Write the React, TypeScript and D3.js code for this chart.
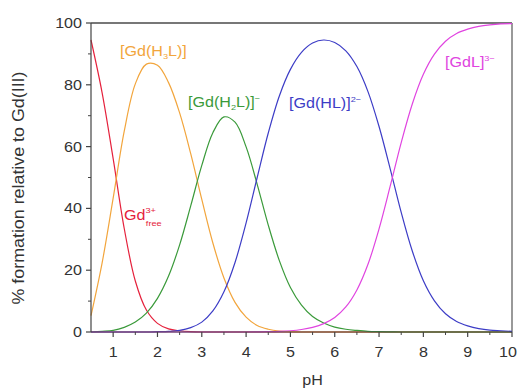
import React from "react";
import * as d3 from "d3";

const W = 518;
const H = 388;
const SX = 1.15; // the source picture is a little stretched sideways

// pH grid and species distribution (% of total Gd)
const pH = [0.5, 0.75, 1, 1.25, 1.5, 1.75, 2, 2.25, 2.5, 2.75, 3, 3.25, 3.5, 3.75, 4, 4.25, 4.5, 4.75, 5, 5.25, 5.5, 5.75, 6, 6.25, 6.5, 6.75, 7, 7.25, 7.5, 7.75, 8, 8.25, 8.5, 8.75, 9, 9.25, 9.5, 9.75, 10];
const gdFree = [94.5, 77.5, 56.1, 33.5, 16.5, 7.1, 2.8, 1.0, 0.4, 0.1, 0, 0, 0, 0, 0, 0, 0, 0, 0, 0, 0, 0, 0, 0, 0, 0, 0, 0, 0, 0, 0, 0, 0, 0, 0, 0, 0, 0, 0];
const gdH3L = [5.3, 22.3, 43.3, 65.0, 80.3, 86.7, 86.3, 80.7, 70.9, 57.7, 42.9, 28.8, 17.5, 9.6, 4.8, 2.1, 0.9, 0.3, 0.1, 0, 0, 0, 0, 0, 0, 0, 0, 0, 0, 0, 0, 0, 0, 0, 0, 0, 0, 0, 0];
const gdH2L = [0, 0.2, 0.5, 1.5, 3.2, 6.1, 10.9, 18.1, 28.2, 40.8, 53.9, 64.5, 69.6, 67.9, 59.9, 47.8, 34.6, 23.1, 14.4, 8.7, 5.0, 2.9, 1.6, 0.9, 0.5, 0.2, 0.1, 0.05, 0, 0, 0, 0, 0, 0, 0, 0, 0, 0, 0];
const gdHL = [0, 0, 0, 0, 0, 0, 0.1, 0.2, 0.5, 1.4, 3.2, 6.8, 13.0, 22.5, 35.3, 50.0, 64.4, 76.4, 85.0, 90.5, 93.5, 94.5, 93.7, 91.0, 85.9, 77.8, 66.5, 52.9, 38.7, 26.2, 16.6, 10.1, 5.9, 3.4, 2.0, 1.1, 0.6, 0.4, 0.2];
const gdL = [0, 0, 0, 0, 0, 0, 0, 0, 0, 0, 0, 0, 0, 0, 0, 0.05, 0.1, 0.2, 0.4, 0.8, 1.5, 2.7, 4.7, 8.1, 13.6, 21.9, 33.4, 47.1, 61.3, 73.8, 83.4, 89.9, 94.1, 96.6, 98.0, 98.9, 99.4, 99.7, 99.8];

const xTicks = [1, 2, 3, 4, 5, 6, 7, 8, 9, 10];
const xMinor = [1.5, 2.5, 3.5, 4.5, 5.5, 6.5, 7.5, 8.5, 9.5];
const yTicks = [0, 20, 40, 60, 80, 100];
const yMinor = [10, 30, 50, 70, 90];

const series = [
  { name: "free", values: gdFree, color: "#e5213c" },
  { name: "H3L", values: gdH3L, color: "#f2a53c" },
  { name: "H2L", values: gdH2L, color: "#3a9a3a" },
  { name: "HL", values: gdHL, color: "#3c3cc6" },
  { name: "L", values: gdL, color: "#e044e0" },
];

const FONT = "Liberation Sans, Arial, sans-serif";

const Txt = ({ x, y, anchor = "start", size = 14, fill = "#333", children }: any) => (
  <g transform={`translate(${x},${y}) scale(${SX},1)`}>
    <text textAnchor={anchor} fontSize={size} fill={fill} fontFamily={FONT}>
      {children}
    </text>
  </g>
);

const App: React.FC = () => {
  const x = d3.scaleLinear().domain([0.5, 10]).range([91, 512]);
  const y = d3.scaleLinear().domain([0, 100]).range([332, 23]);

  const line = (vals: number[]) =>
    d3
      .line<number>()
      .x((_, i) => x(pH[i]))
      .y((d) => y(d))
      .curve(d3.curveCatmullRom.alpha(0.5))(vals) || "";

  const axisColor = "#444";

  return (
    <svg width={W} height={H} style={{ position: "absolute", left: 0, top: 0, background: "#fff" }}>
      {/* frame top/right */}
      <line x1={x(0.5)} x2={x(10)} y1={y(100)} y2={y(100)} stroke="#777" strokeWidth={2} />
      <line x1={x(10)} x2={x(10)} y1={y(100)} y2={y(0)} stroke="#777" strokeWidth={1.5} />

      {/* curves */}
      {series.map((s) => (
        <path key={s.name} d={line(s.values)} fill="none" stroke={s.color} strokeWidth={1.2} />
      ))}

      {/* y axis */}
      <line x1={x(0.5)} x2={x(0.5)} y1={y(0)} y2={y(100)} stroke={axisColor} strokeWidth={1.2} />
      {yTicks.map((t) => (
        <g key={"y" + t}>
          <line x1={x(0.5) - 5} x2={x(0.5)} y1={y(t)} y2={y(t)} stroke={axisColor} strokeWidth={1.2} />
          <Txt x={x(0.5) - 9} y={y(t) + 5} anchor="end">{t}</Txt>
        </g>
      ))}
      {yMinor.map((t) => (
        <line key={"ym" + t} x1={x(0.5) - 3} x2={x(0.5)} y1={y(t)} y2={y(t)} stroke={axisColor} strokeWidth={1} />
      ))}

      {/* x axis */}
      <line x1={x(0.5)} x2={x(10)} y1={y(0)} y2={y(0)} stroke={axisColor} strokeWidth={1.2} />
      {xTicks.map((t) => (
        <g key={"x" + t}>
          <line x1={x(t)} x2={x(t)} y1={y(0)} y2={y(0) + 5} stroke={axisColor} strokeWidth={1.2} />
          {t === 10 ? (
            <Txt x={W - 1} y={357} anchor="end">{t}</Txt>
          ) : (
            <Txt x={x(t)} y={357} anchor="middle">{t}</Txt>
          )}
        </g>
      ))}
      {xMinor.map((t) => (
        <line key={"xm" + t} x1={x(t)} x2={x(t)} y1={y(0)} y2={y(0) + 3} stroke={axisColor} strokeWidth={1} />
      ))}

      {/* axis titles */}
      <Txt x={x(5.5)} y={385} anchor="middle">pH</Txt>
      <text
        transform="translate(24,188) rotate(-90)"
        textAnchor="middle"
        fontSize={16}
        fill="#333"
        fontFamily={FONT}
        textLength={233}
        lengthAdjust="spacingAndGlyphs"
      >
        % formation relative to Gd(III)
      </text>

      {/* species labels */}
      <Txt x={120} y={56} fill={series[1].color}>
        [Gd(H<tspan fontSize={8} dy={3}>3</tspan><tspan dy={-3}>L)]</tspan>
      </Txt>
      <Txt x={188} y={107} fill={series[2].color}>
        [Gd(H<tspan fontSize={8} dy={3}>2</tspan><tspan dy={-3}>L)]</tspan>
        <tspan fontSize={8} dy={-6}>−</tspan>
      </Txt>
      <Txt x={289} y={108} fill={series[3].color}>
        [Gd(HL)]<tspan fontSize={8} dy={-6}>2−</tspan>
      </Txt>
      <Txt x={445} y={67} fill={series[4].color}>
        [GdL]<tspan fontSize={8} dy={-6}>3−</tspan>
      </Txt>
      <Txt x={124} y={220} fill={series[0].color}>
        Gd<tspan fontSize={8} dy={-7}>3+</tspan>
        <tspan fontSize={8} x={19} dy={13}>free</tspan>
      </Txt>
    </svg>
  );
};

export default App;
